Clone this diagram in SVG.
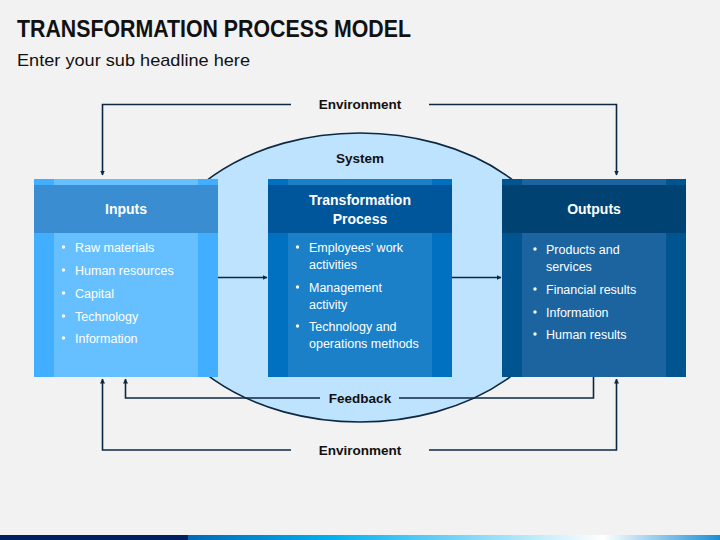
<svg xmlns="http://www.w3.org/2000/svg" width="720" height="540" viewBox="0 0 720 540">
<defs>
<style>
.t{font-family:"Liberation Sans",Arial,sans-serif}
.b{font-weight:bold}
.w{fill:#fff}
.k{fill:#111}
.hd{font-size:14px;font-weight:bold;fill:#fff;text-anchor:middle}
.bl{font-size:12.5px;fill:#fff}
.lab{font-size:13.5px;font-weight:bold;fill:#111;text-anchor:middle}
.ln{fill:none;stroke:#0E2841;stroke-width:1.6}
</style>
<marker id="ah" viewBox="0 0 10 10" refX="9" refY="5" markerWidth="5" markerHeight="5" orient="auto" markerUnits="userSpaceOnUse">
<path d="M0,0 L10,5 L0,10 Z" fill="#0E2841"/>
</marker>
<linearGradient id="band" x1="188" y1="0" x2="720" y2="0" gradientUnits="userSpaceOnUse">
<stop offset="0" stop-color="#0068BA"/>
<stop offset="0.27" stop-color="#00B0F0"/>
<stop offset="0.78" stop-color="#FFFFFF"/>
<stop offset="1" stop-color="#1A8FD6"/>
</linearGradient>
</defs>
<rect width="720" height="540" fill="#F2F2F2"/>
<text class="t b k" x="17" y="37" font-size="23" textLength="394" lengthAdjust="spacingAndGlyphs">TRANSFORMATION PROCESS MODEL</text>
<text class="t k" x="17" y="66" font-size="17" textLength="233" lengthAdjust="spacingAndGlyphs">Enter your sub headline here</text>

<g id="system">
<ellipse cx="360" cy="277.5" rx="207" ry="144.5" fill="#BDE3FF" stroke="#0E2841" stroke-width="1.6"/>
<text class="t lab" x="360" y="163">System</text>
</g>

<g id="connectors">
<polyline class="ln" points="291,104.5 102.5,104.5 102.5,175" marker-end="url(#ah)"/>
<polyline class="ln" points="429,104.5 616.5,104.5 616.5,175" marker-end="url(#ah)"/>
<polyline class="ln" points="291,450 102.5,450 102.5,379" marker-end="url(#ah)"/>
<polyline class="ln" points="429,450 616.5,450 616.5,379" marker-end="url(#ah)"/>
<polyline class="ln" points="320,398 125.5,398 125.5,379" marker-end="url(#ah)"/>
<polyline class="ln" points="399,398 593.5,398 593.5,377"/>
<line class="ln" x1="218" y1="277.5" x2="267" y2="277.5" marker-end="url(#ah)"/>
<line class="ln" x1="452" y1="277.5" x2="501" y2="277.5" marker-end="url(#ah)"/>
<text class="t lab" x="360" y="109">Environment</text>
<text class="t lab" x="360" y="455">Environment</text>
<text class="t lab" x="360" y="403">Feedback</text>
</g>

<g id="inputs">
<rect x="34" y="179" width="184" height="198" fill="#42AEFF"/>
<rect x="54" y="179" width="144" height="198" fill="#66BFFF"/>
<rect x="34" y="185" width="184" height="48" fill="#3A8DD0"/>
<text class="t hd" x="126" y="214">Inputs</text>
<g class="t bl">
<circle cx="63.5" cy="247" r="1.7" fill="#fff"/><text x="75" y="251.5">Raw materials</text>
<circle cx="63.5" cy="270" r="1.7" fill="#fff"/><text x="75" y="274.5">Human resources</text>
<circle cx="63.5" cy="293" r="1.7" fill="#fff"/><text x="75" y="297.5">Capital</text>
<circle cx="63.5" cy="316" r="1.7" fill="#fff"/><text x="75" y="320.5">Technology</text>
<circle cx="63.5" cy="338" r="1.7" fill="#fff"/><text x="75" y="342.5">Information</text>
</g>
</g>

<g id="transformation">
<rect x="268" y="179" width="184" height="198" fill="#0070C0"/>
<rect x="288" y="179" width="144" height="198" fill="#1B80C8"/>
<rect x="268" y="185" width="184" height="48" fill="#00569A"/>
<text class="t hd" x="360" y="205">Transformation</text>
<text class="t hd" x="360" y="224">Process</text>
<g class="t bl">
<circle cx="297.5" cy="247" r="1.7" fill="#fff"/><text x="309" y="251.5">Employees’ work</text>
<text x="309" y="268.5">activities</text>
<circle cx="297.5" cy="287" r="1.7" fill="#fff"/><text x="309" y="291.5">Management</text>
<text x="309" y="308.5">activity</text>
<circle cx="297.5" cy="326" r="1.7" fill="#fff"/><text x="309" y="330.5">Technology and</text>
<text x="309" y="347.5">operations methods</text>
</g>
</g>

<g id="outputs">
<rect x="502" y="179" width="184" height="198" fill="#00548F"/>
<rect x="522" y="179" width="144" height="198" fill="#1C64A0"/>
<rect x="502" y="185" width="184" height="48" fill="#004373"/>
<text class="t hd" x="594" y="214">Outputs</text>
<g class="t bl">
<circle cx="535" cy="249" r="1.7" fill="#fff"/><text x="546" y="253.5">Products and</text>
<text x="546" y="270.5">services</text>
<circle cx="535" cy="289" r="1.7" fill="#fff"/><text x="546" y="293.5">Financial results</text>
<circle cx="535" cy="312" r="1.7" fill="#fff"/><text x="546" y="316.5">Information</text>
<circle cx="535" cy="334" r="1.7" fill="#fff"/><text x="546" y="338.5">Human results</text>
</g>
</g>

<rect x="0" y="535" width="188" height="5" fill="#002060"/>
<rect x="188" y="535" width="532" height="5" fill="url(#band)"/>
</svg>
